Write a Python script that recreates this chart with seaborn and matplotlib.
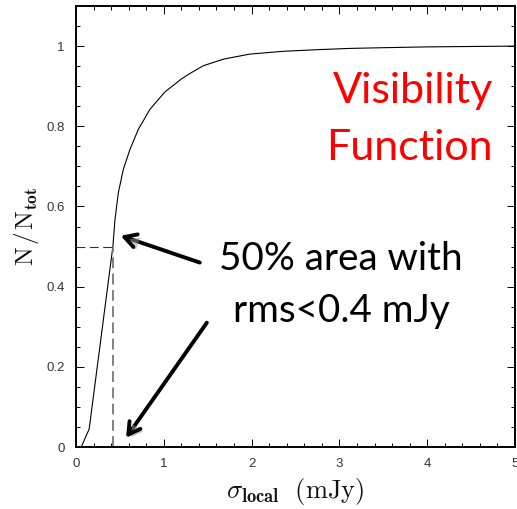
import matplotlib
matplotlib.use("Agg")
import matplotlib.pyplot as plt
import matplotlib.patheffects as pe
from matplotlib.ticker import MultipleLocator
import pandas as pd
import seaborn as sns

# Cumulative fraction of map area vs. local noise level
sigma_local = [0.06, 0.15, 0.42, 0.444, 0.482, 0.539, 0.615, 0.71, 0.843,
               1.01, 1.2, 1.30, 1.45, 1.68, 1.98, 2.36, 2.74, 3.12, 3.5,
               4.0, 4.5, 5.0]
frac_area = [0.0, 0.045, 0.50, 0.5675, 0.634, 0.6925, 0.7425, 0.7925, 0.8425,
             0.885, 0.918, 0.932, 0.951, 0.9675, 0.98, 0.987, 0.991, 0.9942,
             0.996, 0.998, 0.999, 1.0]

half_sigma = 0.42
half_frac = 0.5

x_ticks = [0, 1, 2, 3, 4, 5]
x_tick_labels = ["0", "1", "2", "3", "4", "5"]
y_ticks = [0, 0.2, 0.4, 0.6, 0.8, 1.0]
y_tick_labels = ["0", "0.2", "0.4", "0.6", "0.8", "1"]

title_lines = ["Visibility", "Function"]
note_lines = ["50% area with", "rms<0.4 mJy"]

sns.set_theme(style="ticks")
plt.rcParams["font.family"] = ["Liberation Sans", "DejaVu Sans"]
plt.rcParams["mathtext.fontset"] = "cm"

df = pd.DataFrame({"sigma": sigma_local, "frac": frac_area})

fig = plt.figure(figsize=(5.17, 5.09), dpi=100)
ax = fig.add_axes([76 / 517, 1 - 447 / 509, 439 / 517, 441 / 509])

sns.lineplot(data=df, x="sigma", y="frac", ax=ax, color="black",
             linewidth=0.8, sort=False)

# 50% marker lines
ax.plot([0, half_sigma], [half_frac, half_frac], color="#333333",
        linewidth=0.8, dashes=(8, 4))
ax.plot([half_sigma, half_sigma], [0, half_frac], color="#777777",
        linewidth=1.3, dashes=(6, 3))

ax.set_xlim(0, 5)
ax.set_ylim(0, 1.1)
ax.set_xticks(x_ticks)
ax.set_xticklabels(x_tick_labels)
ax.set_yticks(y_ticks)
ax.set_yticklabels(y_tick_labels)
ax.xaxis.set_minor_locator(MultipleLocator(0.2))
ax.yaxis.set_minor_locator(MultipleLocator(0.05))
ax.tick_params(which="both", direction="in", top=True, right=True,
               width=0.7, color="black", labelsize=9.5, labelcolor="#333333")
ax.tick_params(which="major", length=6, pad=8)
ax.tick_params(which="minor", length=3)
for s in ax.spines.values():
    s.set_linewidth(1.4)
    s.set_color("black")

ax.set_xlabel(r"$\sigma_{\mathbf{local}}\ \ (\mathrm{mJy})$", fontsize=19,
              labelpad=4, color="#111111")
ax.set_ylabel(r"$\mathrm{N\!\;/\!\;N_{\mathbf{tot}}}$", fontsize=18,
              labelpad=4, color="#111111")

# Annotation text, placed in pixel coordinates measured from the top
H = 509
for line, base in zip(title_lines, [103, 160]):
    fig.text(493 / 517, (H - base) / H, line, color="#ff0000", fontsize=31,
             family=["Lato", "DejaVu Sans"], ha="right", va="baseline")
for line, base in zip(note_lines, [270, 322]):
    fig.text(341 / 517, (H - base) / H, line, color="black", fontsize=27.8,
             family=["Lato", "DejaVu Sans"], ha="center", va="baseline")

shadow = [pe.SimplePatchShadow(offset=(2, -2), shadow_rgbFace="#999999",
                               alpha=0.5), pe.Normal()]
arrow_style = dict(arrowstyle="->,head_length=0.7,head_width=0.4",
                   color="black", linewidth=2.8, shrinkA=0, shrinkB=0,
                   capstyle="round", joinstyle="round")
ax.annotate("", xy=(0.51, 0.527), xytext=(1.41, 0.46),
            arrowprops=dict(arrow_style, path_effects=shadow))
ax.annotate("", xy=(0.57, 0.023), xytext=(1.49, 0.31),
            arrowprops=dict(arrow_style, path_effects=shadow))

fig.savefig("out.png", dpi=100)
